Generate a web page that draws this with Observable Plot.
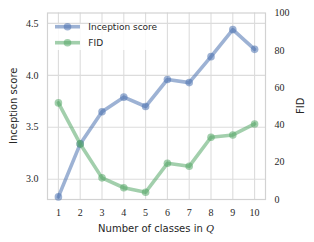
<!DOCTYPE html>
<html><head><meta charset="utf-8">
<script src="https://cdn.jsdelivr.net/npm/d3@7"></script>
<script src="https://cdn.jsdelivr.net/npm/@observablehq/plot@0.6"></script>
<style>
body{margin:0;background:#fff;}
#wrap{width:314px;height:242px;}
</style></head><body><div id="wrap"></div>
<script>
const classes = [1,2,3,4,5,6,7,8,9,10];
const inceptionScore = [2.83,3.34,3.65,3.79,3.70,3.96,3.93,4.18,4.44,4.25];
const fid = [51.8,29.8,11.6,6.3,3.9,19.4,17.8,33.4,34.6,40.5];
const isTicks = [3.0,3.5,4.0,4.5];
const fidTicks = [0,20,40,60,80,100];
const isDomain = [2.805, 4.6];
const fidDomain = [0, 100];
const seriesNames = ["Inception score", "FID"];
const colors = ["#4C72B0", "#55A868"];

const toIS = d3.scaleLinear(fidDomain, isDomain);
const isRows = classes.map((c, i) => ({c, v: inceptionScore[i]}));
const fidRows = classes.map((c, i) => ({c, v: toIS(fid[i])}));

const serif = "'Liberation Serif', serif";
const sans = "'DejaVu Sans', sans-serif";
const textColor = "#262626";
const gridColor = "#dcdcdc";

const W = 314, H = 242, mL = 47, mR = 49, mT = 12.5, mB = 43;

const chart = Plot.plot({
  width: W, height: H,
  marginLeft: mL, marginRight: mR, marginTop: mT, marginBottom: mB,
  style: {fontFamily: sans, fontSize: "10px", background: "white", color: textColor},
  x: {domain: [0.5, 10.5]},
  y: {domain: isDomain},
  marks: [
    Plot.gridX(classes, {stroke: gridColor, strokeOpacity: 1, strokeWidth: 1.1}),
    Plot.gridY(isTicks, {stroke: gridColor, strokeOpacity: 1, strokeWidth: 1.1}),
    Plot.frame({stroke: "#d2d2d2", strokeWidth: 1.2}),
    Plot.axisX(classes, {tickSize: 0, tickPadding: 9, fontFamily: serif, fontSize: 10, label: null, fill: textColor}),
    Plot.axisY(isTicks, {anchor: "left", tickSize: 0, tickPadding: 9, tickFormat: d3.format(".1f"), fontFamily: serif, fontSize: 10, label: null, fill: textColor}),
    Plot.axisY(fidTicks.map(d => toIS(d)), {anchor: "right", tickSize: 0, tickPadding: 9, tickFormat: d => Math.round(toIS.invert(d)), fontFamily: serif, fontSize: 10, label: null, fill: textColor}),
    Plot.line(isRows, {x: "c", y: "v", stroke: colors[0], strokeWidth: 3.6, strokeOpacity: 0.55}),
    Plot.dot(isRows, {x: "c", y: "v", r: 3.8, fill: colors[0], fillOpacity: 0.55, stroke: "none"}),
    Plot.line(fidRows, {x: "c", y: "v", stroke: colors[1], strokeWidth: 3.6, strokeOpacity: 0.55}),
    Plot.dot(fidRows, {x: "c", y: "v", r: 3.8, fill: colors[1], fillOpacity: 0.55, stroke: "none"})
  ]
});

const svg = d3.select(chart);
const cy = (mT + H - mB) / 2;
// axis labels
const xl = svg.append("text")
  .attr("x", (mL + W - mR) / 2).attr("y", 228).attr("text-anchor", "middle")
  .attr("dominant-baseline", "central")
  .attr("font-family", sans).attr("font-size", 10).attr("fill", textColor);
xl.append("tspan").text("Number of classes in ");
xl.append("tspan").attr("font-family", serif).attr("font-style", "italic").attr("font-size", 11).text("Q");
svg.append("text")
  .attr("transform", `translate(13.5,${cy}) rotate(-90)`)
  .attr("text-anchor", "middle").attr("dominant-baseline", "central")
  .attr("font-family", sans).attr("font-size", 10).attr("fill", textColor)
  .text("Inception score");
svg.append("text")
  .attr("transform", `translate(300,${cy}) rotate(-90)`)
  .attr("text-anchor", "middle").attr("dominant-baseline", "central")
  .attr("font-family", sans).attr("font-size", 10).attr("fill", textColor)
  .text("FID");

// legend
const lg = svg.append("g");
lg.append("rect").attr("x", 48.5).attr("y", 24).attr("width", 114).attr("height", 26)
  .attr("fill", "white").attr("fill-opacity", 0.85);
seriesNames.forEach((name, i) => {
  const y = 26.7 + i * 16;
  lg.append("line").attr("x1", 55).attr("x2", 80).attr("y1", y).attr("y2", y)
    .attr("stroke", colors[i]).attr("stroke-width", 3.6).attr("stroke-opacity", 0.55);
  lg.append("circle").attr("cx", 67.5).attr("cy", y).attr("r", 3.8)
    .attr("fill", colors[i]).attr("fill-opacity", 0.55);
  lg.append("text").attr("x", 88.3).attr("y", y).attr("text-anchor", "start")
    .attr("dominant-baseline", "central")
    .attr("font-family", sans).attr("font-size", 9).attr("fill", textColor).text(name);
});

document.getElementById("wrap").appendChild(chart);
</script>
</body></html>
